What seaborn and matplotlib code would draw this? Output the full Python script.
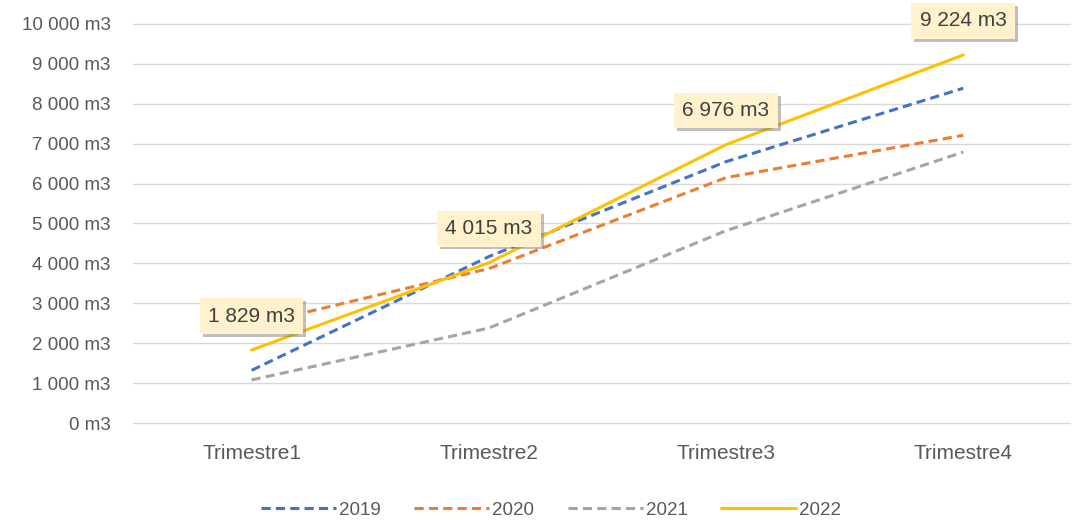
import matplotlib
matplotlib.use("Agg")
import matplotlib.pyplot as plt
import matplotlib.patheffects as pe
from matplotlib.ticker import FuncFormatter
import seaborn as sns
import pandas as pd

categories = ["Trimestre1", "Trimestre2", "Trimestre3", "Trimestre4"]
years = ["2019", "2020", "2021", "2022"]
v2019 = [1320, 4170, 6550, 8390]
v2020 = [2450, 3870, 6150, 7210]
v2021 = [1080, 2380, 4820, 6790]
v2022 = [1829, 4015, 6976, 9224]
labels_2022 = ["1 829 m3", "4 015 m3", "6 976 m3", "9 224 m3"]

series = {"2019": v2019, "2020": v2020, "2021": v2021, "2022": v2022}
rows = []
for y, vals in series.items():
    for c, v in zip(categories, vals):
        rows.append({"Trimestre": c, "Volume": v, "Année": y})
df = pd.DataFrame(rows)

sns.set_theme(style="white")
plt.rcParams["font.family"] = ["Liberation Sans", "DejaVu Sans"]

palette = {"2019": "#4472C4", "2020": "#ED7D31", "2021": "#A5A5A5", "2022": "#FFC000"}
dashes = {"2019": (3, 1.7), "2020": (3, 1.7), "2021": (3, 1.7), "2022": ""}

fig = plt.figure(figsize=(10.72, 5.2), dpi=100)
ax = fig.add_axes([133 / 1072, 1 - 423 / 520, 937 / 1072, 399 / 520])

sns.lineplot(data=df, x="Trimestre", y="Volume", hue="Année", style="Année",
             palette=palette, dashes=dashes, linewidth=2.2, ax=ax, sort=False)

ax.set_xlim(-0.5, 3.45)
ax.set_ylim(0, 10000)
ax.set_yticks(range(0, 10001, 1000))
ax.yaxis.set_major_formatter(FuncFormatter(lambda v, p: f"{int(v):,}".replace(",", " ") + " m3"))
ax.grid(axis="y", color="#D9D9D9", linewidth=1)
for gl in ax.get_ygridlines():
    gl.set_clip_on(False)
ax.set_axisbelow(True)
for s in ax.spines.values():
    s.set_visible(False)
ax.set_xlabel("")
ax.set_ylabel("")
ax.tick_params(axis="both", length=0, colors="#595959")
ax.tick_params(axis="y", labelsize=13.5, pad=16)
ax.tick_params(axis="x", labelsize=15, pad=15)

for i, (v, t) in enumerate(zip(v2022, labels_2022)):
    txt = ax.annotate(t, (i, v), xytext=(0, 34), textcoords="offset pixels",
                      ha="center", va="center", fontsize=15, color="#404040",
                      bbox=dict(boxstyle="square,pad=0.4", fc="#FFF2CC", ec="none"))
    txt.get_bbox_patch().set_path_effects([pe.withSimplePatchShadow(offset=(2, -2), shadow_rgbFace="#808080", alpha=0.5)])

handles, labs = ax.get_legend_handles_labels()
ax.legend(handles, labs, loc="center", bbox_to_anchor=(0.446, -0.218), ncol=4,
          frameon=False, fontsize=13.5, handlelength=4.0, columnspacing=1.8,
          handletextpad=0.15, labelcolor="#595959")

fig.savefig("out.png", dpi=100)
